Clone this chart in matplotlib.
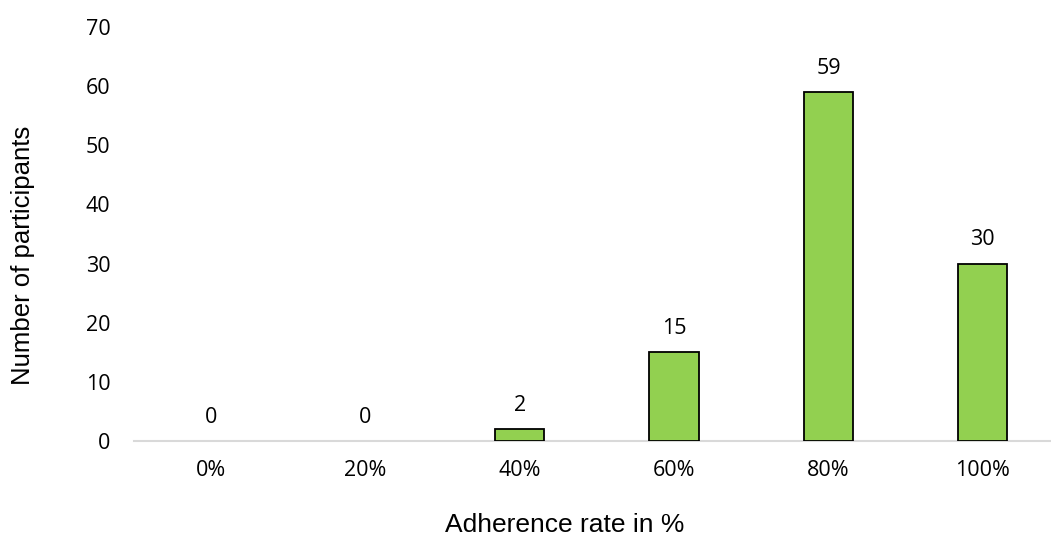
import matplotlib.pyplot as plt

# Adherence histogram data
categories = ["0%", "20%", "40%", "60%", "80%", "100%"]
participants = [0, 0, 2, 15, 59, 30]
y_ticks = [0, 10, 20, 30, 40, 50, 60, 70]

fig = plt.figure(figsize=(10.51, 5.35), dpi=100)
ax = fig.add_axes([0.1275, 0.1757, 0.881, 0.774])

x = list(range(len(categories)))
bars = ax.bar(x, participants, width=0.32, color="#92D050",
              edgecolor="black", linewidth=1.3, zorder=3)
# empty categories get no outline
for b, v in zip(bars, participants):
    if v == 0:
        b.set_visible(False)

# Value labels above each bar
for xi, v in zip(x, participants):
    ax.annotate(str(v), (xi, v), xytext=(0, 17), textcoords="offset points",
                ha="center", va="center", fontsize=15.5, family="Open Sans")

ax.set_xlim(-0.5, len(categories) - 0.5)
ax.set_ylim(0, 70)
ax.set_yticks(y_ticks)
ax.set_xticks(x)
ax.set_xticklabels(categories)

for lbl in ax.get_xticklabels() + ax.get_yticklabels():
    lbl.set_family("Open Sans")
    lbl.set_fontsize(15.5)

ax.tick_params(axis="both", length=0)
ax.tick_params(axis="y", pad=17)
ax.tick_params(axis="x", pad=14)

for side in ("top", "right", "left"):
    ax.spines[side].set_visible(False)
ax.spines["bottom"].set_color("#D9D9D9")
ax.spines["bottom"].set_linewidth(1.5)

ax.set_xlabel("Adherence rate in %", fontsize=19, family="Liberation Sans")
ax.set_ylabel("Number of participants", fontsize=18.5, family="Liberation Sans")
ax.xaxis.set_label_coords(0.465, -0.174)
ax.yaxis.set_label_coords(-0.107, 0.449)

fig.savefig("out.png", dpi=100)
